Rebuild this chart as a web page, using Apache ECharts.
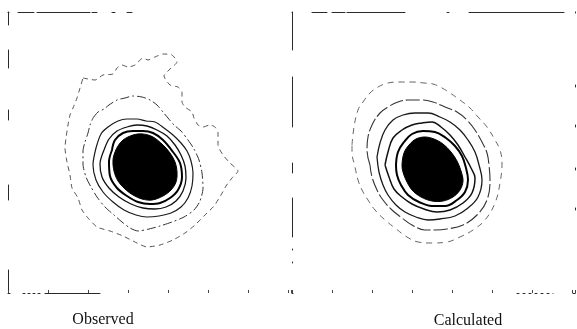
<!DOCTYPE html>
<html>
<head>
<meta charset="utf-8">
<script src="https://cdn.jsdelivr.net/npm/echarts@6/dist/echarts.min.js"></script>
<style>
  html, body { margin: 0; padding: 0; background: #fff; }
  #chart { width: 577px; height: 329px; }
</style>
</head>
<body>
<div id="chart"></div>
<script>
// Panel captions
const panelTitles = ['Observed', 'Calculated'];

// Observed map: filled peak region and contour levels (inner to outer), [x, y] in map units
const obsCore = [
  [55,73.5],[57.5,76.5],[62.5,79],[67.5,79.5],[72.5,78],[77.5,74],[81,70],[83.5,65.5],
  [84.5,60.5],[84,55.5],[81.5,51.5],[77.5,48.5],[72,46.5],[67,47],[62.5,49],[58.5,52],
  [55,56],[53,61],[52.5,66.5],[53.5,70.5]
];
const obsLevel1 = [
  [52,71.5],[53.5,76.5],[57.5,80],[62.5,81],[67.5,81],[72.5,80],[77.5,76.5],[82.5,70.5],
  [86,65],[87,58],[85,51.5],[81,47.5],[76,45],[71,44.5],[65,45.5],[59.5,48.5],[54.5,52.5],
  [51,58.5],[50.5,65.5],[52,71.5]
];
const obsLevel2 = [
  [48,71.5],[50.5,77],[54.5,81],[59.5,83],[64.5,84],[69.5,83.5],[74.5,81.5],[79.5,78.5],
  [83.5,74],[86.5,69],[88.5,63.5],[89,57.5],[87.5,51],[84,46],[79,43],[73.5,42],[67.5,42.5],
  [61.5,44.5],[55.5,48],[50.5,52.5],[47,58],[46,64.5],[48,71.5]
];
const obsLevel3 = [
  [44,72.5],[46.5,79.5],[50,83],[55,86],[59.5,87],[64.5,87],[69,86],[73.5,85.5],[78,82.5],
  [82.5,79],[86.5,75],[89.5,71],[91.5,66],[92.5,60],[92,53.5],[90,47.5],[86.5,43],[81.5,40],
  [75.5,38.5],[69.5,38],[64,39],[58,41.5],[52.5,45.5],[47.5,50.5],[44,56.5],[42.5,64],[44,72.5]
];
const obsLevel4 = [
  [42.5,87.5],[45,90.5],[48,92],[50.5,94],[54.5,96.5],[58.5,97.5],[62.5,98.5],[67,98],
  [71,96.5],[74.5,94],[77.5,90.5],[80,87.5],[83,84],[86.5,81],[90,76.5],[93,72],[95.5,66.5],
  [97,60],[97.5,52.5],[96,46],[93,41.5],[88,38],[82,35.5],[76,33.5],[70.5,32],[65,31],
  [61,32.5],[57,35.5],[53,39],[48.5,43],[44.5,48],[41.5,53],[39,58],[37.5,64.5],[37.5,71],
  [38.5,75.5],[40,80],[41,84],[42.5,87.5]
];
const obsLevel5 = [
  [37.5,107.5],[43.5,106.5],[47.5,109],[52.5,109.5],[54.5,112.5],[57,114],[60,113],[63.5,114],
  [67.5,117.5],[70,116.5],[73.5,118],[77.5,119.5],[82,119],[84.5,115.5],[81,112],[78,108.5],
  [81,104],[85,103],[87,100.5],[87,95.5],[88.5,93],[92,90.5],[93,87.5],[95,84],[97.5,83],
  [101,84],[103.5,83],[105,80],[105,74],[107.5,69],[111,65],[115,61],[112,57.5],[109,53.5],
  [106.5,49],[103,43.5],[98.5,39],[93.5,34],[88.5,30],[82.5,26.5],[76,24],[69.5,23],[64.5,25],
  [57.5,28.5],[51,31],[44.5,33],[40,37.5],[37,41.5],[35,47.5],[32,52.5],[31,59],[29.5,65.5],
  [28.5,72.5],[29,77.5],[30,84],[31,89],[32.5,92.5],[34.5,97.5],[36,102.5],[37.5,107.5]
];

// Calculated map: same layout
const calcCore = [
  [55,64],[56,70],[58.5,74],[62,77],[66.5,78],[71,77],[75.5,74.5],[79.5,70.5],[82.5,66],
  [84.5,61],[85.5,56],[84,51.5],[80.5,48],[75.5,46],[70,46],[64.5,48],[60,51.5],[57,56.5],
  [55.5,60.5]
];
const calcLevel1 = [
  [52,64],[53,70.5],[56,75.5],[60,79.5],[65.5,81],[71.5,80.5],[77,77.5],[81.5,73.5],[85,68.5],
  [87,62.5],[88,56.5],[86.5,50.5],[82.5,46.5],[76.5,43.5],[70,43.5],[63.5,45.5],[58,49],
  [54.5,54],[52.5,59],[52,64]
];
const calcLevel2 = [
  [46.5,64],[48,70.5],[50.5,77.5],[55,81.5],[60,84],[65,85],[70,85.5],[74.5,83],[79,79],
  [83,74],[86.5,68],[89.5,62.5],[91.5,57.5],[90,50],[85.5,45],[79,41.5],[72.5,40.5],[66,42],
  [60,44.5],[55,48],[51,52],[48.5,58],[46.5,64]
];
const calcLevel3 = [
  [42.5,68],[44,75],[46.5,81.5],[50.5,86.5],[55.5,89],[61.5,90],[68,90],[74,88],[79,85.5],
  [84,81.5],[88,76.5],[91.5,70.5],[93.5,64],[95,56.5],[93,48],[88,42.5],[81.5,38.5],[74,37],
  [68,36.5],[62,38],[56.5,40.5],[52,44],[48,49],[45.5,54],[43.5,60.5],[42.5,68]
];
const calcLevel4 = [
  [39,64],[37.5,71.5],[38,78],[40.5,85],[44,90],[48,93],[53,95.5],[58,96.5],[65,96.5],
  [70.5,95.5],[76.5,93],[82.5,90.5],[87.5,86.5],[91.5,81.5],[95,75.5],[97.5,70],[98.5,64],
  [99,56.5],[97.5,46.5],[92.5,39],[85.5,34],[77.5,32],[71.5,31.5],[66.5,31.5],[60,34],
  [55,37.5],[50,41.5],[45.5,46.5],[42.5,51.5],[40,58],[39,64]
];
const calcLevel5 = [
  [30,74],[31,83],[33,91.5],[35.5,95.5],[39,100],[43,103],[48,105],[54,105.5],[60,105.5],
  [66,105],[70.5,104.5],[75,102.5],[79,100],[84,96.5],[89,92.5],[93,88],[97.5,83],[101.5,76.5],
  [104,71.5],[105,65],[104,55],[101.5,45],[96.5,36.5],[90.5,31.5],[84,28],[77.5,25.5],[70,25],
  [63,25.5],[57.5,28],[51.5,32.5],[46.5,36.5],[41.5,41.5],[38,46.5],[35,51.5],[33,56.5],
  [31.5,63],[30,70.5],[30,74]
];

const X_MAX = 141.5, Y_MAX = 140.5, STEP = 20;
const frameColor = '#2a2a2a';

function frameAxis(extra) {
  return Object.assign({
    type: 'value', min: 0, interval: STEP,
    axisLabel: { show: false }, splitLine: { show: false },
    axisTick: { show: false }
  }, extra);
}
function xFrame(gridIndex, position, dash, ticks) {
  return frameAxis({
    gridIndex, position, max: X_MAX,
    axisLine: { show: true, onZero: false, lineStyle: { color: frameColor, width: 1, type: dash } },
    axisTick: { show: !!ticks, inside: true, length: 3, lineStyle: { color: '#444', width: 1 } }
  });
}
function yFrame(gridIndex, position, dash) {
  return frameAxis({
    gridIndex, position, max: Y_MAX,
    axisLine: { show: true, onZero: false, lineStyle: { color: frameColor, width: 1, type: dash } }
  });
}

function contour(data, xi, yi, style, smooth) {
  return {
    type: 'line', data, xAxisIndex: xi, yAxisIndex: yi,
    showSymbol: false, symbol: 'none', smooth: smooth,
    lineStyle: style, silent: true, z: 3
  };
}
function filledPeak(points, xi, yi) {
  return {
    type: 'custom', xAxisIndex: xi, yAxisIndex: yi, data: points, z: 4, silent: true,
    renderItem: function (params, api) {
      if (params.dataIndex !== 0) return null;
      const pts = points.map(p => api.coord(p));
      return { type: 'polygon', shape: { points: pts, smooth: 0.35 }, style: { fill: '#000', stroke: '#000', lineWidth: 1 } };
    }
  };
}

function caption(text, x, y) {
  return {
    type: 'text', x, y,
    style: { text, fontSize: 16, fontFamily: 'Liberation Serif', fill: '#111', align: 'center', verticalAlign: 'middle', textAlign: 'center', textVerticalAlign: 'middle' }
  };
}

const chart = echarts.init(document.getElementById('chart'), null, { renderer: 'canvas' });

chart.setOption({
  animation: false,
  backgroundColor: '#fff',
  grid: [
    { left: 8, top: 12, width: 283, height: 281 },
    { left: 292, top: 12, width: 283, height: 281 }
  ],
  xAxis: [
    xFrame(0, 'bottom', [2, 13, 2, 3, 2, 3, 2, 3, 2, 5, 55, 300], true),
    xFrame(0, 'top', [1, 9, 16, 3, 53, 2, 5, 15, 3, 12, 5, 300], false),
    xFrame(1, 'bottom', [1, 224, 2, 4, 2, 4, 2, 4, 2, 4, 2, 4, 2, 4, 0, 20, 2, 10], true),
    xFrame(1, 'top', [0, 20, 15, 5, 13, 2, 58, 42, 2, 20, 95, 20], false)
  ],
  yAxis: [
    yFrame(0, 'left', [23, 70, 15, 65, 10, 42, 18, 25, 13, 50]),
    yFrame(1, 'left', [0, 30, 1, 12, 1, 12, 39, 25, 10, 36, 50, 27, 38, 10]),
    yFrame(1, 'right', [0, 83, 2, 38, 2, 41, 2, 38, 2, 72, 2, 10])
  ],
  graphic: [
    caption(panelTitles[0], 103, 320),
    caption(panelTitles[1], 468, 321)
  ],
  series: [
    contour(obsLevel5, 0, 0, { color: '#555', width: 1, type: [5, 4] }, 0.2),
    contour(obsLevel4, 0, 0, { color: '#333', width: 1, type: [9, 3, 2, 3] }, 0.25),
    contour(obsLevel3, 0, 0, { color: '#1a1a1a', width: 1.2 }, 0.3),
    contour(obsLevel2, 0, 0, { color: '#111', width: 1.3 }, 0.3),
    contour(obsLevel1, 0, 0, { color: '#000', width: 2 }, 0.35),
    filledPeak(obsCore, 0, 0),

    contour(calcLevel5, 2, 1, { color: '#666', width: 1, type: [6, 5] }, 0.4),
    contour(calcLevel4, 2, 1, { color: '#333', width: 1.1, type: [14, 3] }, 0.4),
    contour(calcLevel3, 2, 1, { color: '#1a1a1a', width: 1.3 }, 0.4),
    contour(calcLevel2, 2, 1, { color: '#111', width: 1.5 }, 0.4),
    contour(calcLevel1, 2, 1, { color: '#000', width: 2 }, 0.4),
    filledPeak(calcCore, 2, 1)
  ]
});
</script>
</body>
</html>
